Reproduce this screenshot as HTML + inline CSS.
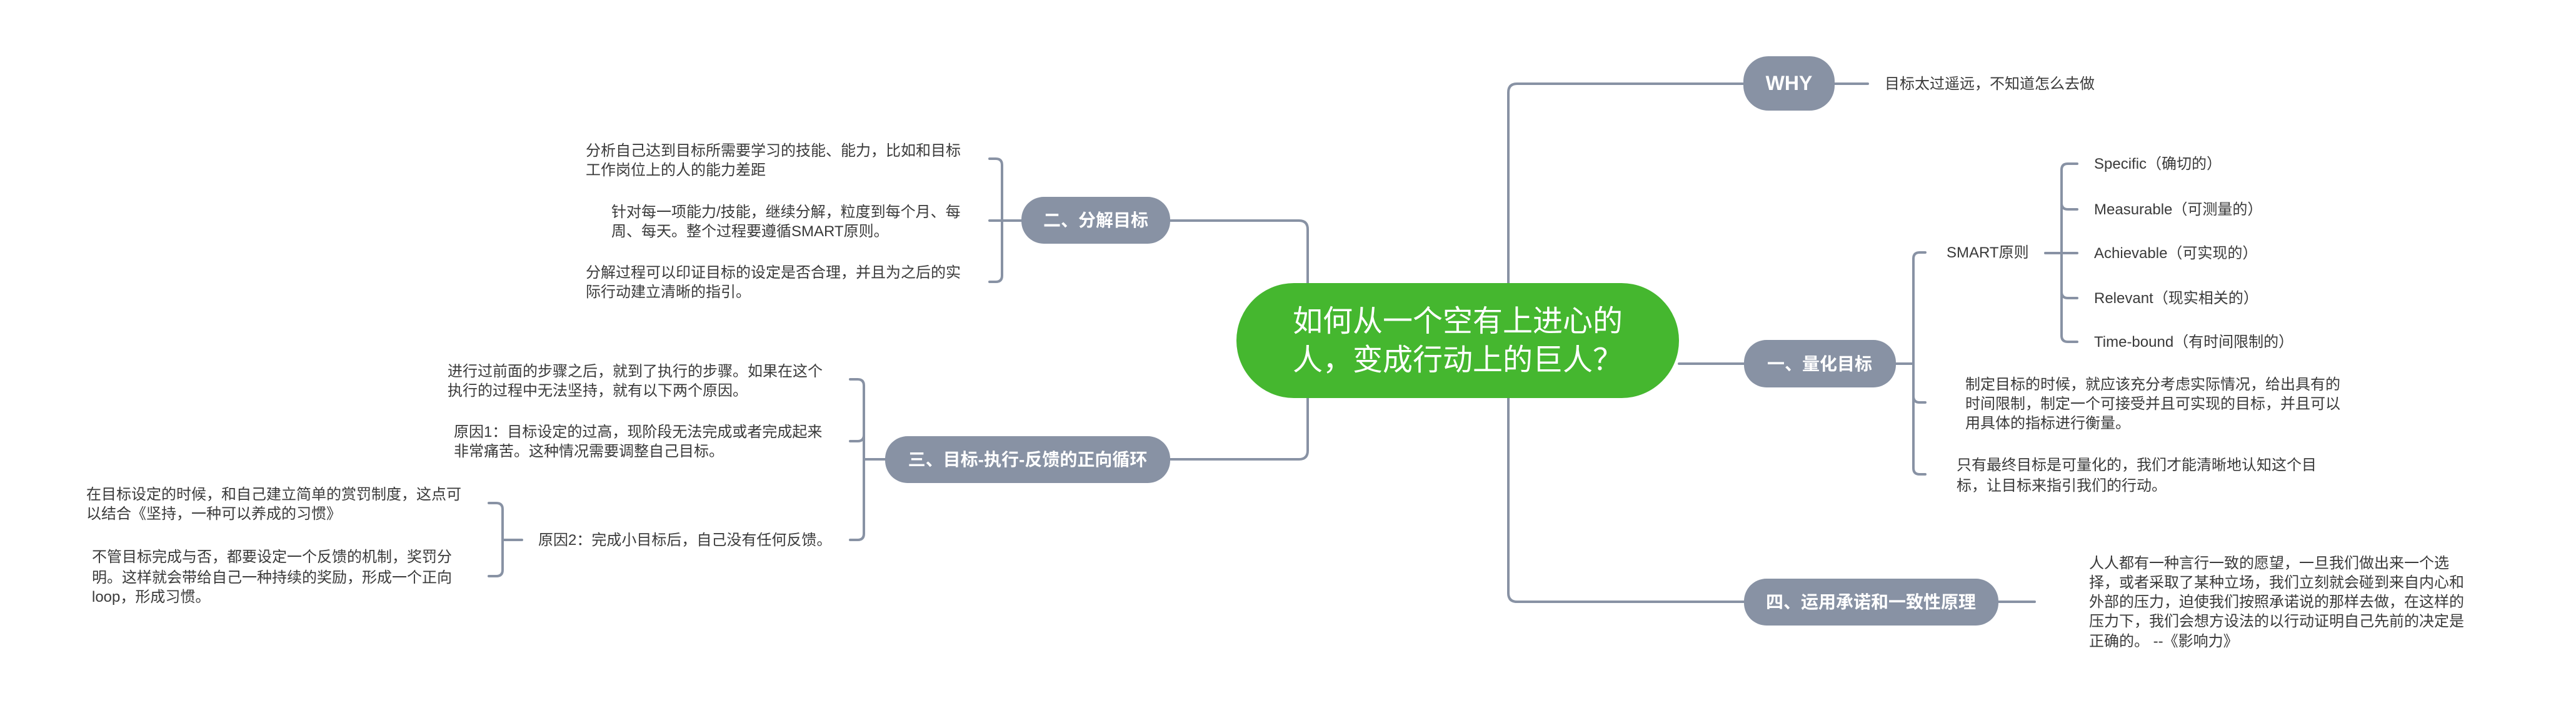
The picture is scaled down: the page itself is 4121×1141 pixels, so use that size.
<!DOCTYPE html>
<html><head><meta charset="utf-8"><style>
html,body{margin:0;padding:0;background:#fff;}
svg{display:block}
text{font-family:"Liberation Sans","Noto Sans CJK SC",sans-serif;fill:#3a3a3a;font-size:24px}
.n{fill:#fff;font-weight:bold;font-size:28px}
</style></head><body>
<svg width="4121" height="1141" viewBox="0 0 4121 1141" xmlns="http://www.w3.org/2000/svg">
<g fill="none" stroke="#8892a4" stroke-width="4" stroke-linecap="round">
<!-- right trunk -->
<path d="M2790 134 H2427 Q2413 134 2413 148 V949 Q2413 963 2427 963 H2790"/>
<path d="M2686 582 H2790"/>
<path d="M2935 134 H2988"/>
<path d="M3197 963 H3255"/>
<!-- left trunk -->
<path d="M1872 353 H2078 Q2092 353 2092 367 V721 Q2092 735 2078 735 H1872"/>
<!-- 一 bracket -->
<path d="M3033 582 H3061"/>
<path d="M3080 404 H3071 Q3061 404 3061 414 V749 Q3061 759 3071 759 H3080"/>
<path d="M3061 644 Q3061 644 3061 634 M3061 634 Q3061 644 3071 644 H3080"/>
<!-- SMART bracket -->
<path d="M3272 405 H3323"/>
<path d="M3323 262 H3308 Q3298 262 3298 272 V537 Q3298 547 3308 547 H3323"/>
<path d="M3298 325 Q3298 335 3308 335 H3323"/>
<path d="M3298 467 Q3298 477 3308 477 H3323"/>
<!-- 二 bracket -->
<path d="M1603 353 H1634"/>
<path d="M1583 254 H1593 Q1603 254 1603 264 V441 Q1603 451 1593 451 H1583"/>
<path d="M1583 353 H1603"/>
<!-- 三 bracket -->
<path d="M1382 735 H1416"/>
<path d="M1360 607 H1372 Q1382 607 1382 617 V854 Q1382 864 1372 864 H1360"/>
<path d="M1382 696 Q1382 706 1372 706 H1360"/>
<!-- 原因2 bracket -->
<path d="M804 864 H835"/>
<path d="M782 805 H794 Q804 805 804 815 V912 Q804 922 794 922 H782"/>
</g>
<!-- nodes -->
<rect x="1978" y="453" width="708" height="184" rx="92" fill="#45b72f"/>
<text x="2332" y="530" text-anchor="middle" style="fill:#fff;font-size:48px">如何从一个空有上进心的</text>
<text x="2332" y="592" text-anchor="middle" style="fill:#fff;font-size:48px">人，变成行动上的巨人？</text>

<rect x="2789" y="90" width="146" height="87" rx="40" fill="#8892a4"/>
<text class="n" x="2862" y="144" text-anchor="middle" style="font-size:32px">WHY</text>
<rect x="2790" y="544" width="243" height="76" rx="36" fill="#8892a4"/>
<text class="n" x="2911" y="592" text-anchor="middle">一、量化目标</text>
<rect x="2790" y="926" width="407" height="75" rx="36" fill="#8892a4"/>
<text class="n" x="2993" y="973" text-anchor="middle">四、运用承诺和一致性原理</text>
<rect x="1634" y="315" width="238" height="75" rx="36" fill="#8892a4"/>
<text class="n" x="1753" y="362" text-anchor="middle">二、分解目标</text>
<rect x="1416" y="698" width="456" height="75" rx="36" fill="#8892a4"/>
<text class="n" x="1644" y="745" text-anchor="middle">三、目标-执行-反馈的正向循环</text>

<!-- right texts -->
<text x="3015" y="142">目标太过遥远，不知道怎么去做</text>
<text x="3114" y="412">SMART原则</text>
<text x="3350" y="270">Specific（确切的）</text>
<text x="3350" y="343">Measurable（可测量的）</text>
<text x="3350" y="413">Achievable（可实现的）</text>
<text x="3350" y="485">Relevant（现实相关的）</text>
<text x="3350" y="555">Time-bound（有时间限制的）</text>
<text x="3144" y="623">制定目标的时候，就应该充分考虑实际情况，给出具有的</text>
<text x="3144" y="654">时间限制，制定一个可接受并且可实现的目标，并且可以</text>
<text x="3144" y="685">用具体的指标进行衡量。</text>
<text x="3130" y="752">只有最终目标是可量化的，我们才能清晰地认知这个目</text>
<text x="3130" y="785">标，让目标来指引我们的行动。</text>
<text x="3342" y="909">人人都有一种言行一致的愿望，一旦我们做出来一个选</text>
<text x="3342" y="940">择，或者采取了某种立场，我们立刻就会碰到来自内心和</text>
<text x="3342" y="971">外部的压力，迫使我们按照承诺说的那样去做，在这样的</text>
<text x="3342" y="1002">压力下，我们会想方设法的以行动证明自己先前的决定是</text>
<text x="3342" y="1034">正确的。 --《影响力》</text>

<!-- left texts -->
<text x="937" y="249">分析自己达到目标所需要学习的技能、能力，比如和目标</text>
<text x="937" y="280">工作岗位上的人的能力差距</text>
<text x="978" y="347">针对每一项能力/技能，继续分解，粒度到每个月、每</text>
<text x="978" y="378">周、每天。整个过程要遵循SMART原则。</text>
<text x="937" y="444">分解过程可以印证目标的设定是否合理，并且为之后的实</text>
<text x="937" y="475">际行动建立清晰的指引。</text>
<text x="716" y="602">进行过前面的步骤之后，就到了执行的步骤。如果在这个</text>
<text x="716" y="633">执行的过程中无法坚持，就有以下两个原因。</text>
<text x="726" y="699">原因1：目标设定的过高，现阶段无法完成或者完成起来</text>
<text x="726" y="730">非常痛苦。这种情况需要调整自己目标。</text>
<text x="861" y="872">原因2：完成小目标后，自己没有任何反馈。</text>
<text x="138" y="799">在目标设定的时候，和自己建立简单的赏罚制度，这点可</text>
<text x="138" y="830">以结合《坚持，一种可以养成的习惯》</text>
<text x="147" y="899">不管目标完成与否，都要设定一个反馈的机制，奖罚分</text>
<text x="147" y="932">明。这样就会带给自己一种持续的奖励，形成一个正向</text>
<text x="147" y="963">loop，形成习惯。</text>
</svg>
</body></html>
